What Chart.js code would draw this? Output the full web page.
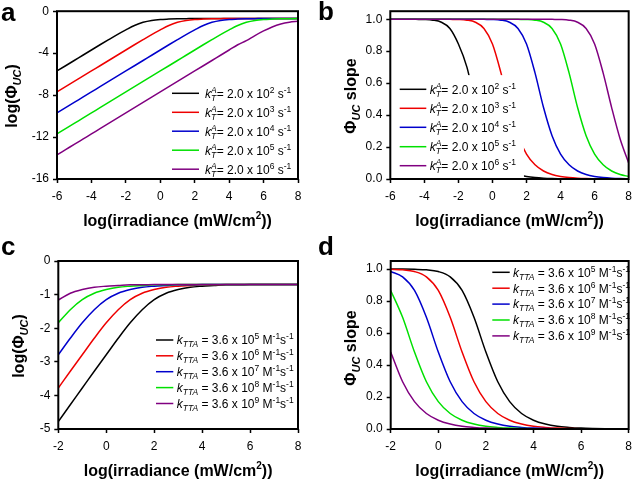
<!DOCTYPE html>
<html><head><meta charset="utf-8">
<script src="https://cdn.jsdelivr.net/npm/chart.js@4.4.0/dist/chart.umd.min.js"></script>
<style>
html,body{margin:0;padding:0;background:#fff;}
body{width:638px;height:480px;position:relative;overflow:hidden;}
.p{position:absolute;width:319px;height:240px;}
canvas{display:block;}
.lt{position:absolute;font:bold 26px 'Liberation Sans', Arial, Helvetica, sans-serif;line-height:26px;color:#000;z-index:5;}
</style></head><body>
<div class="p" style="left:0;top:0"><canvas id="ca" width="319" height="240"></canvas></div>
<div class="p" style="left:319px;top:0"><canvas id="cb" width="319" height="240"></canvas></div>
<div class="p" style="left:0;top:240px"><canvas id="cc" width="319" height="240"></canvas></div>
<div class="p" style="left:319px;top:240px"><canvas id="cd" width="319" height="240"></canvas></div>
<div class="lt" style="left:1px;top:-1px">a</div>
<div class="lt" style="left:318px;top:-2px">b</div>
<div class="lt" style="left:1px;top:233px">c</div>
<div class="lt" style="left:318px;top:233px">d</div>
<script>
const FF = "'Liberation Sans', Arial, Helvetica, sans-serif";
const COLORS = ['#000000', '#ee0000', '#0000cc', '#00e000', '#800080'];

// x categories (log irradiance)
const xAB = [-6,-5.5,-5,-4.5,-4,-3.5,-3,-2.5,-2,-1.5,-1,-0.5,0,0.5,1,1.5,2,2.5,3,3.5,4,4.5,5,5.5,6,6.5,7,7.5,8];
const xCD = [-2,-1.5,-1,-0.5,0,0.5,1,1.5,2,2.5,3,3.5,4,4.5,5,5.5,6,6.5,7,7.5,8];

// tick labels
const xTicksAB = [-6,-4,-2,0,2,4,6,8];
const xTicksCD = [-2,0,2,4,6,8];
const yTicksA = [-16,-12,-8,-4,0];
const yTicksB = [0,0.2,0.4,0.6,0.8,1.0];
const yTicksC = [-5,-4,-3,-2,-1,0];
const yTicksD = [0,0.2,0.4,0.6,0.8,1.0];

// legend exponents
const expAB = ['2','3','4','5','6'];
const expCD = ['5','6','7','8','9'];

// panel a: log(PhiUC)
const aBlack  = [-5.70,-5.20,-4.70,-4.20,-3.70,-3.20,-2.71,-2.23,-1.78,-1.36,-1.06,-0.88,-0.79,-0.75,-0.72,-0.71,-0.70,-0.70,-0.70,-0.70,-0.70,-0.70,-0.70,-0.70,-0.70,-0.70,-0.70,-0.70,-0.70];
const aRed    = [-7.70,-7.20,-6.70,-6.20,-5.70,-5.20,-4.70,-4.20,-3.70,-3.20,-2.71,-2.23,-1.78,-1.36,-1.06,-0.88,-0.79,-0.75,-0.72,-0.71,-0.70,-0.70,-0.70,-0.70,-0.70,-0.70,-0.70,-0.70,-0.70];
const aBlue   = [-9.70,-9.20,-8.70,-8.20,-7.70,-7.20,-6.70,-6.20,-5.70,-5.20,-4.70,-4.20,-3.70,-3.20,-2.71,-2.23,-1.78,-1.36,-1.06,-0.88,-0.79,-0.75,-0.72,-0.71,-0.70,-0.70,-0.70,-0.70,-0.70];
const aGreen  = [-11.70,-11.20,-10.70,-10.20,-9.70,-9.20,-8.70,-8.20,-7.70,-7.20,-6.70,-6.20,-5.70,-5.20,-4.70,-4.20,-3.70,-3.20,-2.71,-2.23,-1.78,-1.36,-1.06,-0.88,-0.79,-0.75,-0.72,-0.71,-0.70];
const aPurple = [-13.70,-13.20,-12.70,-12.20,-11.70,-11.20,-10.70,-10.20,-9.70,-9.20,-8.70,-8.20,-7.70,-7.20,-6.70,-6.20,-5.70,-5.20,-4.70,-4.20,-3.70,-3.20,-2.80,-2.32,-1.88,-1.50,-1.22,-1.05,-0.96];

// panel b: PhiUC slope
const bBlack  = [1.000,1.000,1.000,0.999,0.998,0.994,0.981,0.942,0.845,0.700,0.470,0.271,0.156,0.089,0.050,0.028,0.016,0.009,0.005,0.003,0.002,0.001,0.001,0.001,0.000,0.000,0.000,0.000,0.000];
const bRed    = [1.000,1.000,1.000,1.000,1.000,1.000,1.000,0.999,0.998,0.994,0.981,0.942,0.845,0.664,0.447,0.271,0.156,0.089,0.050,0.028,0.016,0.009,0.005,0.003,0.002,0.001,0.001,0.000,0.000];
const bBlue   = [1.000,1.000,1.000,1.000,1.000,1.000,1.000,1.000,1.000,1.000,1.000,0.999,0.998,0.994,0.981,0.942,0.845,0.664,0.447,0.271,0.156,0.089,0.050,0.028,0.016,0.009,0.005,0.003,0.002];
const bGreen  = [1.000,1.000,1.000,1.000,1.000,1.000,1.000,1.000,1.000,1.000,1.000,1.000,1.000,1.000,1.000,0.999,0.998,0.994,0.981,0.942,0.845,0.664,0.447,0.271,0.156,0.089,0.050,0.028,0.016];
const bPurple = [1.000,1.000,1.000,1.000,1.000,1.000,1.000,1.000,1.000,1.000,1.000,1.000,1.000,1.000,1.000,1.000,1.000,1.000,1.000,0.999,0.998,0.994,0.981,0.942,0.845,0.664,0.447,0.250,0.100];

// panel c: log(PhiUC) vs kTTA
const cBlack  = [-4.78,-4.28,-3.78,-3.28,-2.79,-2.30,-1.84,-1.45,-1.15,-0.96,-0.85,-0.78,-0.75,-0.73,-0.71,-0.71,-0.70,-0.70,-0.70,-0.70,-0.70];
const cRed    = [-3.78,-3.28,-2.79,-2.30,-1.84,-1.45,-1.15,-0.96,-0.85,-0.78,-0.75,-0.73,-0.71,-0.71,-0.70,-0.70,-0.70,-0.70,-0.70,-0.70,-0.70];
const cBlue   = [-2.79,-2.30,-1.84,-1.45,-1.15,-0.96,-0.85,-0.78,-0.75,-0.73,-0.71,-0.71,-0.70,-0.70,-0.70,-0.70,-0.70,-0.70,-0.70,-0.70,-0.70];
const cGreen  = [-1.84,-1.45,-1.15,-0.96,-0.85,-0.78,-0.75,-0.73,-0.71,-0.71,-0.70,-0.70,-0.70,-0.70,-0.70,-0.70,-0.70,-0.70,-0.70,-0.70,-0.70];
const cPurple = [-1.16,-0.96,-0.85,-0.78,-0.75,-0.73,-0.71,-0.71,-0.70,-0.70,-0.70,-0.70,-0.70,-0.70,-0.70,-0.70,-0.70,-0.70,-0.70,-0.70,-0.70];

// panel d: PhiUC slope vs kTTA
const dBlack  = [1.000,0.9995,0.998,0.995,0.984,0.951,0.866,0.698,0.481,0.295,0.171,0.097,0.055,0.031,0.017,0.010,0.0055,0.0031,0.0017,0.0010,0.0005];
const dRed    = [0.998,0.995,0.984,0.951,0.866,0.698,0.481,0.295,0.171,0.097,0.055,0.031,0.017,0.010,0.0055,0.0031,0.0017,0.0010,0.0005,0.0003,0.0002];
const dBlue   = [0.984,0.951,0.866,0.698,0.481,0.295,0.171,0.097,0.055,0.031,0.017,0.010,0.0055,0.0031,0.0017,0.0010,0.0005,0.0003,0.0002,0.0001,0.0001];
const dGreen  = [0.866,0.698,0.481,0.295,0.171,0.097,0.055,0.031,0.017,0.010,0.0055,0.0031,0.0017,0.0010,0.0005,0.0003,0.0002,0.0001,0.0001,0.0001,0.0000];
const dPurple = [0.481,0.295,0.171,0.097,0.055,0.031,0.017,0.010,0.0055,0.0031,0.0017,0.0010,0.0005,0.0003,0.0002,0.0001,0.0001,0.0000,0.0000,0.0000,0.0000];

function f(style, size){ return style + ' ' + size + 'px ' + FF; }

function drawRich(ctx, segs, x, y) {
  for (const s of segs) {
    if (s.stack) {
      ctx.font = s.f;
      const w1 = ctx.measureText(s.sup).width, w2 = ctx.measureText(s.sub).width;
      ctx.fillText(s.sup, x, y - 5);
      ctx.fillText(s.sub, x, y + 3);
      x += Math.max(w1, w2);
    } else {
      ctx.font = s.f;
      ctx.fillText(s.t, x, y + (s.dy || 0));
      x += ctx.measureText(s.t).width;
    }
  }
  return x;
}
function richWidth(ctx, segs) {
  let w = 0;
  for (const s of segs) {
    ctx.font = s.f;
    if (s.stack) w += Math.max(ctx.measureText(s.sup).width, ctx.measureText(s.sub).width);
    else w += ctx.measureText(s.t).width;
  }
  return w;
}

function legSegs(kind, e) {
  const R = f('normal', 12), I = f('italic', 12), S = f('normal', 8.5), SI = f('italic', 8.5);
  if (kind === 'A') {
    return [{t:'k', f:I}, {stack:true, sup:'A', sub:'T', f:SI}, {t:'= 2.0 x 10', f:R}, {t:e, f:S, dy:-5},
            {t:' s', f:R}, {t:'-1', f:S, dy:-5}];
  }
  return [{t:'k', f:I}, {t:'TTA', f:SI, dy:3}, {t:' = 3.6 x 10', f:R}, {t:e, f:S, dy:-5},
          {t:' M', f:R}, {t:'-1', f:S, dy:-5}, {t:'s', f:R}, {t:'-1', f:S, dy:-5}];
}

function build(id, P) {
  const deco = {
    id: 'deco_' + id,
    afterDatasetsDraw(chart) {
      const ctx = chart.ctx, ca = chart.chartArea;
      const xs = chart.scales.x, ys = chart.scales.y;
      ctx.save();
      if (P.mask) {
        const x1 = xs.getPixelForValue(P.mask.x1), y0 = ys.getPixelForValue(P.mask.y1);
        ctx.fillStyle = '#fff';
        ctx.fillRect(ca.left, y0, x1 - ca.left, ca.bottom - y0);
      }
      ctx.strokeStyle = '#000'; ctx.lineWidth = 2;
      ctx.strokeRect(ca.left, ca.top, ca.right - ca.left, ca.bottom - ca.top);
      // legend
      ctx.fillStyle = '#000';
      ctx.textBaseline = 'alphabetic';
      ctx.textAlign = 'left';
      P.leg.rows.forEach((ry, i) => {
        ctx.strokeStyle = COLORS[i]; ctx.lineWidth = 1.5;
        ctx.beginPath(); ctx.moveTo(P.leg.x0, ry); ctx.lineTo(P.leg.x1, ry); ctx.stroke();
        ctx.fillStyle = '#000';
        drawRich(ctx, legSegs(P.leg.kind, P.leg.exps[i]), P.leg.tx, ry + 4.3);
      });
      // x title
      const B = f('bold', 16), BS = f('bold', 10);
      const xt = [{t:'log(irradiance (mW/cm', f:B}, {t:'2', f:BS, dy:-7}, {t:'))', f:B}];
      const wx = richWidth(ctx, xt);
      drawRich(ctx, xt, (ca.left + ca.right) / 2 - wx / 2, P.xtY);
      // y title
      const yt = P.slope
        ? [{t:'\u03A6', f:B}, {t:'UC', f:f('italic bold', 11), dy:4}, {t:' slope', f:B}]
        : [{t:'log(\u03A6', f:B}, {t:'UC', f:f('italic bold', 11), dy:4}, {t:')', f:B}];
      const wy = richWidth(ctx, yt);
      ctx.translate(P.ytX, P.ytC);
      ctx.rotate(-Math.PI / 2);
      drawRich(ctx, yt, -wy / 2, 0);
      ctx.setTransform(1, 0, 0, 1, 0, 0);
      ctx.restore();
    }
  };
  return new Chart(document.getElementById(id), {
    type: 'line',
    data: {
      datasets: P.series.map((s, i) => ({
        data: s.map((y, j) => ({x: P.x[j], y: y})),
        borderColor: COLORS[i], borderWidth: 1.5, pointRadius: 0, fill: false,
        cubicInterpolationMode: 'monotone', order: 4 - i
      }))
    },
    options: {
      responsive: false, animation: false, devicePixelRatio: 1,
      layout: {padding: {left: 0, right: P.padR, top: P.padT, bottom: 0}},
      plugins: {legend: {display: false}, tooltip: {enabled: false}},
      scales: {
        x: {
          type: 'linear', min: P.xmin, max: 8,
          afterBuildTicks: s => { s.ticks = P.xt.map(v => ({value: v})); },
          afterFit: s => { s.height = P.xh; },
          ticks: {font: {family: FF, size: 12}, color: '#000', padding: 6, maxRotation: 0, autoSkip: false,
                  callback: v => String(v)},
          grid: {display: true, drawOnChartArea: false, drawTicks: true, tickLength: 4, tickColor: '#000', tickWidth: 1.5},
          border: {display: false}
        },
        y: {
          type: 'linear', min: P.ymin, max: P.ymax,
          afterBuildTicks: s => { s.ticks = P.yt.map(v => ({value: v})); },
          afterFit: s => { s.width = P.yw; },
          ticks: {font: {family: FF, size: 12}, color: '#000', padding: 4, autoSkip: false,
                  callback: v => P.slope ? v.toFixed(1) : String(v)},
          grid: {display: true, drawOnChartArea: false, drawTicks: true, tickLength: 4, tickColor: '#000', tickWidth: 1.5},
          border: {display: false}
        }
      }
    },
    plugins: [deco]
  });
}

build('ca', {
  x: xAB, xmin: -6, xt: xTicksAB, ymin: -16, ymax: 0, yt: yTicksA, slope: false,
  series: [aBlack, aRed, aBlue, aGreen, aPurple],
  yw: 57, xh: 61, padR: 21, padT: 11,
  leg: {kind: 'A', exps: expAB, x0: 172, x1: 199, tx: 205, rows: [93.3, 112.3, 131.2, 150.2, 169.2]},
  xtY: 225.5, ytX: 17, ytC: 96
});
build('cb', {
  x: xAB, xmin: -6, xt: xTicksAB, ymin: 0, ymax: 1.05, yt: yTicksB, slope: true,
  series: [bBlack, bRed, bBlue, bGreen, bPurple],
  yw: 71.3, xh: 61, padR: 5.7, padT: 11,
  mask: {x1: 1.85, y1: 0.65},
  leg: {kind: 'A', exps: expAB, x0: 80.7, x1: 107.3, tx: 110.7, rows: [89.3, 108.3, 127.3, 146.7, 165.7]},
  xtY: 225.5, ytX: 37, ytC: 96
});
build('cc', {
  x: xCD, xmin: -2, xt: xTicksCD, ymin: -5, ymax: 0, yt: yTicksC, slope: false,
  series: [cBlack, cRed, cBlue, cGreen, cPurple],
  yw: 58.3, xh: 51, padR: 21, padT: 21,
  leg: {kind: 'C', exps: expCD, x0: 156, x1: 173.3, tx: 176.7, rows: [100, 115.8, 131.7, 147.6, 163.5]},
  xtY: 235.5, ytX: 23.5, ytC: 106
});
build('cd', {
  x: xCD, xmin: -2, xt: xTicksCD, ymin: 0, ymax: 1.05, yt: yTicksD, slope: true,
  series: [dBlack, dRed, dBlue, dGreen, dPurple],
  yw: 71.7, xh: 51, padR: 6.7, padT: 21,
  leg: {kind: 'C', exps: expCD, x0: 173.3, x1: 190.7, tx: 194, rows: [32.3, 48.2, 64.1, 80, 95.9]},
  xtY: 235.5, ytX: 37, ytC: 108
});
</script>
</body></html>
